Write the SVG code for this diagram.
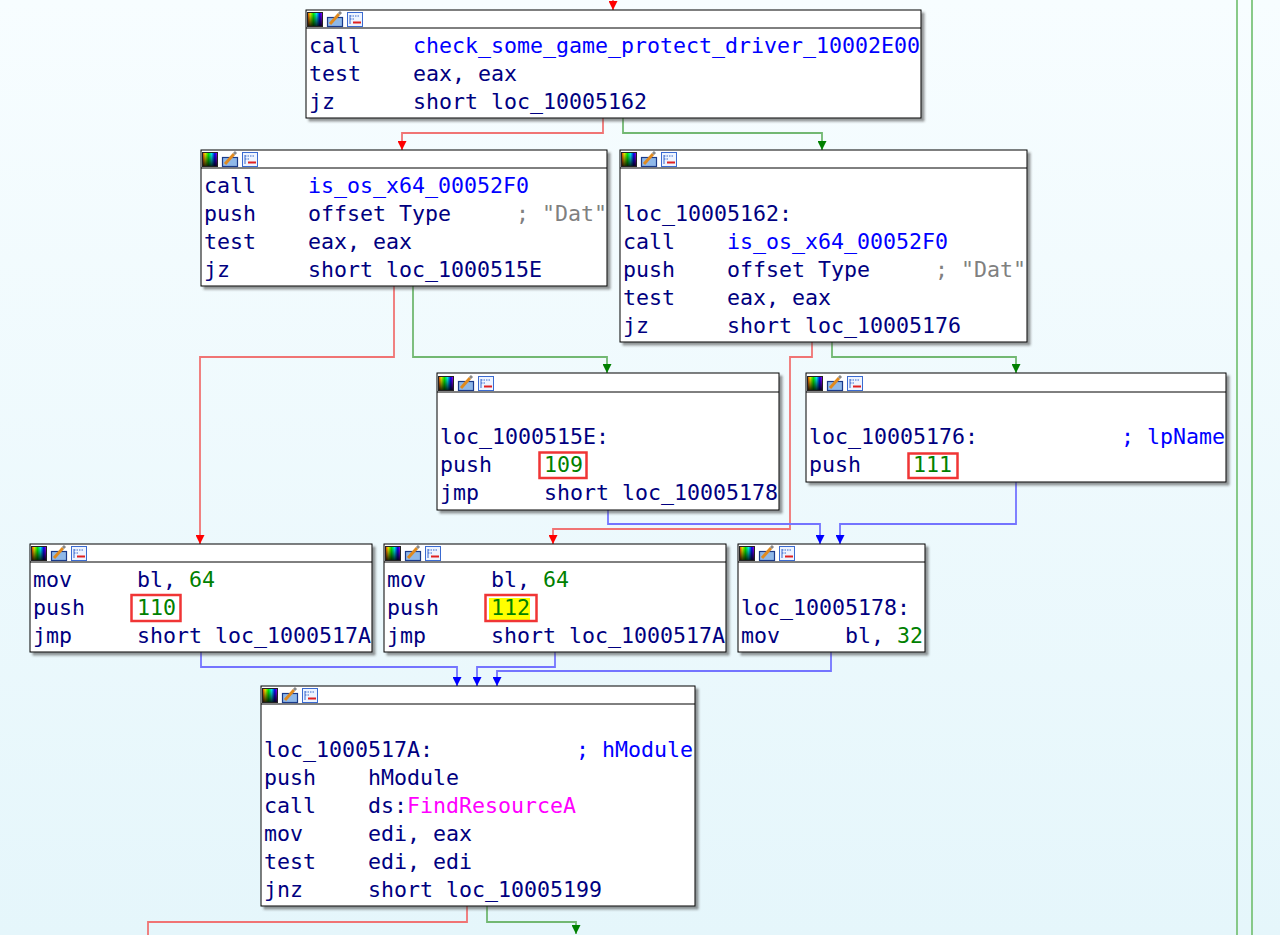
<svg xmlns="http://www.w3.org/2000/svg" xmlns:xlink="http://www.w3.org/1999/xlink" width="1280" height="935" viewBox="0 0 1280 935">
<defs>
<linearGradient id="bg" x1="0" y1="0" x2="0" y2="1">
<stop offset="0" stop-color="#f7fdff"/>
<stop offset="1" stop-color="#e5f6fb"/>
</linearGradient>
<linearGradient id="hue" x1="0" y1="0" x2="1" y2="0">
<stop offset="0" stop-color="#ff0000"/>
<stop offset="0.2" stop-color="#ffff00"/>
<stop offset="0.4" stop-color="#00ff00"/>
<stop offset="0.6" stop-color="#00ffff"/>
<stop offset="0.8" stop-color="#0000ff"/>
<stop offset="1" stop-color="#ff00ff"/>
</linearGradient>
<linearGradient id="dark" x1="0" y1="0" x2="0" y2="1">
<stop offset="0" stop-color="#000" stop-opacity="0"/>
<stop offset="1" stop-color="#000" stop-opacity="0.9"/>
</linearGradient>
<filter id="sh" x="-5%" y="-5%" width="115%" height="120%">
<feDropShadow dx="3" dy="3" stdDeviation="1.2" flood-color="#404040" flood-opacity="0.55"/>
</filter>
<marker id="ar" viewBox="0 0 10 10" refX="10" refY="5" markerWidth="9" markerHeight="9" markerUnits="userSpaceOnUse" orient="auto"><path d="M0,0 L10,5 L0,10 z" fill="#ff0000"/></marker>
<marker id="ag" viewBox="0 0 10 10" refX="10" refY="5" markerWidth="9" markerHeight="9" markerUnits="userSpaceOnUse" orient="auto"><path d="M0,0 L10,5 L0,10 z" fill="#008000"/></marker>
<marker id="ab" viewBox="0 0 10 10" refX="10" refY="5" markerWidth="9" markerHeight="9" markerUnits="userSpaceOnUse" orient="auto"><path d="M0,0 L10,5 L0,10 z" fill="#0000ff"/></marker>
<g id="hdr">
<rect x="1" y="2" width="16" height="15" fill="url(#hue)"/>
<rect x="1" y="2" width="16" height="15" fill="url(#dark)"/>
<rect x="1.5" y="2.5" width="15" height="14" fill="none" stroke="#222" stroke-width="1"/>
<rect x="21.5" y="7.5" width="15" height="9" fill="#8fb8e8" stroke="#1a3a8a" stroke-width="1.2"/>
<path d="M24,14 L33,4" stroke="#e08a1e" stroke-width="3"/>
<path d="M33,4 L35,2" stroke="#888" stroke-width="3"/>
<rect x="41.5" y="2.5" width="15" height="14" fill="#eef4ff" stroke="#3a6ad0" stroke-width="1"/>
<path d="M44,6 H54 M44,9 H49" stroke="#3a6ad0" stroke-width="1.2" stroke-dasharray="1.5,1"/>
<path d="M47,12.5 H55" stroke="#e02020" stroke-width="2"/>
<path d="M44,5 V14" stroke="#3a6ad0" stroke-width="1"/>
</g>
</defs>
<style>
text { font-family: "DejaVu Sans Mono", "Liberation Mono", monospace; font-size: 21.6px; white-space: pre; }
.m { fill: #000080; }
.f { fill: #0000ff; }
.n { fill: #008000; }
.c { fill: #808080; }
.p { fill: #ff00ff; }
.box { fill: #ffffff; stroke: #000000; stroke-width: 1; filter: url(#sh); }
.hl { stroke: #000000; stroke-width: 1; }
.rb { fill: none; stroke: #f03535; stroke-width: 2.5; }
.er { fill: none; stroke: #f07474; stroke-width: 1.8; marker-end: url(#ar); }
.eg { fill: none; stroke: #72b872; stroke-width: 1.8; marker-end: url(#ag); }
.eb { fill: none; stroke: #7474ff; stroke-width: 1.8; marker-end: url(#ab); }
.side { fill: none; stroke: #7cc47c; stroke-width: 1.8; }
</style>
<rect x="0" y="0" width="1280" height="935" fill="url(#bg)"/>

<g id="connectors">
<path class="side" d="M1237,0 V935"/>
<path class="side" d="M1252,0 V935"/>
<path class="er" d="M613,0 V10"/>
<path class="er" d="M603,118 V133 H402 V150"/>
<path class="eg" d="M623,118 V133 H822 V150"/>
<path class="er" d="M394,286 V357 H200 V544"/>
<path class="eg" d="M413,286 V357 H607 V373"/>
<path class="er" d="M812,342 V357 H790 V529 H553 V544"/>
<path class="eg" d="M832,342 V357 H1016 V373"/>
<path class="eb" d="M608,510 V524 H820 V544"/>
<path class="eb" d="M1016,482 V524 H840 V544"/>
<path class="eb" d="M201,652 V667 H457 V686"/>
<path class="eb" d="M555,652 V667 H477 V686"/>
<path class="eb" d="M831,652 V671 H497 V686"/>
<path class="er" d="M467,906 V922 H148 V945"/>
<path class="eg" d="M487,906 V922 H576 V934"/>
</g>

<g id="node_10002E00">
<rect class="box" x="306" y="10" width="615" height="108"/>
<line class="hl" x1="306" y1="28" x2="921" y2="28"/>
<use xlink:href="#hdr" x="306" y="10"/>
<text x="309" y="53"><tspan class="m">call</tspan><tspan class="f" x="413">check_some_game_protect_driver_10002E00</tspan></text>
<text x="309" y="81"><tspan class="m">test</tspan><tspan class="m" x="413">eax, eax</tspan></text>
<text x="309" y="109"><tspan class="m">jz</tspan><tspan class="m" x="413">short loc_10005162</tspan></text>
</g>

<g id="node_is_os_x64_a">
<rect class="box" x="201" y="150" width="406" height="136"/>
<line class="hl" x1="201" y1="168" x2="607" y2="168"/>
<use xlink:href="#hdr" x="201" y="150"/>
<text x="204" y="193"><tspan class="m">call</tspan><tspan class="f" x="308">is_os_x64_00052F0</tspan></text>
<text x="204" y="221"><tspan class="m">push</tspan><tspan class="m" x="308">offset Type</tspan><tspan class="c" x="516">; "Dat"</tspan></text>
<text x="204" y="249"><tspan class="m">test</tspan><tspan class="m" x="308">eax, eax</tspan></text>
<text x="204" y="277"><tspan class="m">jz</tspan><tspan class="m" x="308">short loc_1000515E</tspan></text>
</g>

<g id="node_loc_10005162">
<rect class="box" x="620" y="150" width="407" height="192"/>
<line class="hl" x1="620" y1="168" x2="1027" y2="168"/>
<use xlink:href="#hdr" x="620" y="150"/>
<text x="623" y="221" class="m">loc_10005162:</text>
<text x="623" y="249"><tspan class="m">call</tspan><tspan class="f" x="727">is_os_x64_00052F0</tspan></text>
<text x="623" y="277"><tspan class="m">push</tspan><tspan class="m" x="727">offset Type</tspan><tspan class="c" x="935">; "Dat"</tspan></text>
<text x="623" y="305"><tspan class="m">test</tspan><tspan class="m" x="727">eax, eax</tspan></text>
<text x="623" y="333"><tspan class="m">jz</tspan><tspan class="m" x="727">short loc_10005176</tspan></text>
</g>

<g id="node_loc_1000515E">
<rect class="box" x="437" y="373" width="342" height="137"/>
<line class="hl" x1="437" y1="392" x2="779" y2="392"/>
<use xlink:href="#hdr" x="437" y="374"/>
<text x="440" y="444" class="m">loc_1000515E:</text>
<text x="440" y="472"><tspan class="m">push</tspan><tspan class="n" x="544">109</tspan></text>
<rect class="rb" x="539.5" y="452.5" width="47" height="25.5"/>
<text x="440" y="500"><tspan class="m">jmp</tspan><tspan class="m" x="544">short loc_10005178</tspan></text>
</g>

<g id="node_loc_10005176">
<rect class="box" x="806" y="373" width="420" height="109"/>
<line class="hl" x1="806" y1="392" x2="1226" y2="392"/>
<use xlink:href="#hdr" x="806" y="374"/>
<text x="809" y="444"><tspan class="m">loc_10005176:</tspan><tspan class="f" x="1121">; lpName</tspan></text>
<text x="809" y="472"><tspan class="m">push</tspan><tspan class="n" x="913">111</tspan></text>
<rect class="rb" x="908.5" y="453.5" width="49" height="24.5"/>
</g>

<g id="node_push_110">
<rect class="box" x="30" y="544" width="342" height="108"/>
<line class="hl" x1="30" y1="562" x2="372" y2="562"/>
<use xlink:href="#hdr" x="30" y="544"/>
<text x="33" y="587"><tspan class="m">mov</tspan><tspan class="m" x="137">bl, </tspan><tspan class="n">64</tspan></text>
<text x="33" y="615"><tspan class="m">push</tspan><tspan class="n" x="137">110</tspan></text>
<rect class="rb" x="131.5" y="595" width="49" height="26"/>
<text x="33" y="643"><tspan class="m">jmp</tspan><tspan class="m" x="137">short loc_1000517A</tspan></text>
</g>

<g id="node_push_112">
<rect class="box" x="384" y="544" width="342" height="108"/>
<line class="hl" x1="384" y1="562" x2="726" y2="562"/>
<use xlink:href="#hdr" x="384" y="544"/>
<text x="387" y="587"><tspan class="m">mov</tspan><tspan class="m" x="491">bl, </tspan><tspan class="n">64</tspan></text>
<rect x="489" y="598" width="41" height="22" fill="#ffff00"/>
<text x="387" y="615"><tspan class="m">push</tspan><tspan class="n" x="491">112</tspan></text>
<rect class="rb" x="485.5" y="595" width="51" height="26"/>
<text x="387" y="643"><tspan class="m">jmp</tspan><tspan class="m" x="491">short loc_1000517A</tspan></text>
</g>

<g id="node_loc_10005178">
<rect class="box" x="738" y="544" width="187" height="108"/>
<line class="hl" x1="738" y1="562" x2="925" y2="562"/>
<use xlink:href="#hdr" x="738" y="544"/>
<text x="741" y="615" class="m">loc_10005178:</text>
<text x="741" y="643"><tspan class="m">mov</tspan><tspan class="m" x="845">bl, </tspan><tspan class="n">32</tspan></text>
</g>

<g id="node_loc_1000517A">
<rect class="box" x="261" y="686" width="434" height="220"/>
<line class="hl" x1="261" y1="704" x2="695" y2="704"/>
<use xlink:href="#hdr" x="261" y="686"/>
<text x="264" y="757"><tspan class="m">loc_1000517A:</tspan><tspan class="f" x="576">; hModule</tspan></text>
<text x="264" y="785"><tspan class="m">push</tspan><tspan class="m" x="368">hModule</tspan></text>
<text x="264" y="813"><tspan class="m">call</tspan><tspan class="m" x="368">ds:</tspan><tspan class="p">FindResourceA</tspan></text>
<text x="264" y="841"><tspan class="m">mov</tspan><tspan class="m" x="368">edi, eax</tspan></text>
<text x="264" y="869"><tspan class="m">test</tspan><tspan class="m" x="368">edi, edi</tspan></text>
<text x="264" y="897"><tspan class="m">jnz</tspan><tspan class="m" x="368">short loc_10005199</tspan></text>
</g>
</svg>
